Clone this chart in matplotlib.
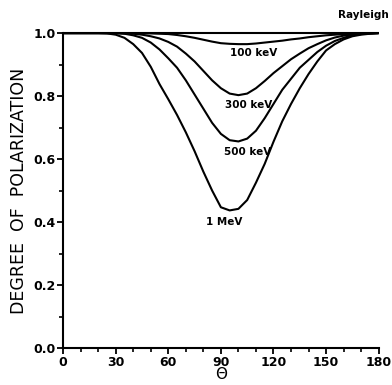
import matplotlib
matplotlib.use('Agg')
import matplotlib.pyplot as plt
from matplotlib.ticker import MultipleLocator

# scattering angle (deg)
theta = [0, 5, 10, 15, 20, 25, 30, 35, 40, 45, 50, 55, 60, 65, 70, 75, 80, 85, 90,
         95, 100, 105, 110, 115, 120, 125, 130, 135, 140, 145, 150, 155, 160, 165,
         170, 175, 180]

p_rayleigh = [1.0] * len(theta)
p_100kev = [1.0, 1.0, 1.0, 1.0, 1.0, 1.0, 1.0, 1.0, 1.0, 0.999, 0.999, 0.998, 0.997,
            0.994, 0.99, 0.985, 0.979, 0.973, 0.968, 0.966, 0.965, 0.965, 0.967,
            0.97, 0.973, 0.976, 0.98, 0.983, 0.987, 0.99, 0.993, 0.995, 0.997,
            0.998, 0.999, 1.0, 1.0]
p_300kev = [1.0, 1.0, 1.0, 1.0, 1.0, 1.0, 1.0, 0.999, 0.998, 0.995, 0.99, 0.983, 0.972,
            0.957, 0.935, 0.91, 0.88, 0.85, 0.825, 0.808, 0.803, 0.808, 0.825,
            0.848, 0.873, 0.895, 0.917, 0.935, 0.952, 0.965, 0.977, 0.986, 0.992,
            0.996, 0.998, 0.999, 1.0]
p_500kev = [1.0, 1.0, 1.0, 1.0, 1.0, 1.0, 1.0, 0.998, 0.993, 0.985, 0.97, 0.948, 0.92,
            0.89, 0.85, 0.805, 0.76, 0.715, 0.68, 0.66, 0.656, 0.665, 0.69, 0.73,
            0.775, 0.82, 0.855, 0.89, 0.915, 0.94, 0.96, 0.975, 0.985, 0.993,
            0.997, 0.999, 1.0]
p_1mev = [1.0, 1.0, 1.0, 1.0, 1.0, 0.999, 0.995, 0.985, 0.965, 0.937, 0.893, 0.838,
          0.79, 0.74, 0.685, 0.625, 0.56, 0.5, 0.447, 0.437, 0.442, 0.47, 0.525,
          0.585, 0.655, 0.72, 0.775, 0.825, 0.87, 0.91, 0.945, 0.965, 0.98, 0.99,
          0.995, 0.998, 1.0]

curves = [p_rayleigh, p_100kev, p_300kev, p_500kev, p_1mev]
labels = ['Rayleigh', '100 keV', '300 keV', '500 keV', '1 MeV']
label_pos = [(171, 1.057), (108.7, 0.937), (106, 0.771), (105, 0.622), (92, 0.40)]

fig = plt.figure(figsize=(3.92, 3.85), dpi=100)
ax = fig.add_axes([0.161, 0.096, 0.805, 0.818])

for p in curves:
    ax.plot(theta, p, color='black', lw=1.5, solid_capstyle='butt', clip_on=False)

for lab, (x, y) in zip(labels, label_pos):
    ax.text(x, y, lab, ha='center', va='center', fontsize=7.5,
            fontweight='bold', clip_on=False)

ax.set_xlim(0, 180)
ax.set_ylim(0, 1.0)
ax.xaxis.set_major_locator(MultipleLocator(30))
ax.xaxis.set_minor_locator(MultipleLocator(10))
ax.yaxis.set_major_locator(MultipleLocator(0.2))
ax.yaxis.set_minor_locator(MultipleLocator(0.1))
ax.yaxis.set_major_formatter(plt.FormatStrFormatter('%.1f'))

ax.spines['top'].set_visible(False)
ax.spines['right'].set_visible(False)
for s in ['left', 'bottom']:
    ax.spines[s].set_linewidth(1.5)

ax.tick_params(which='major', direction='out', length=4, width=1.3,
               labelsize=9, pad=1.5)
ax.tick_params(which='minor', direction='out', length=3, width=1.2)
for t in ax.get_xticklabels() + ax.get_yticklabels():
    t.set_fontweight('bold')

ax.set_xlabel('Θ', fontsize=11, labelpad=-1)
ax.set_ylabel('DEGREE  OF  POLARIZATION', fontsize=12.5, labelpad=4)

fig.savefig('out.png', dpi=100)
